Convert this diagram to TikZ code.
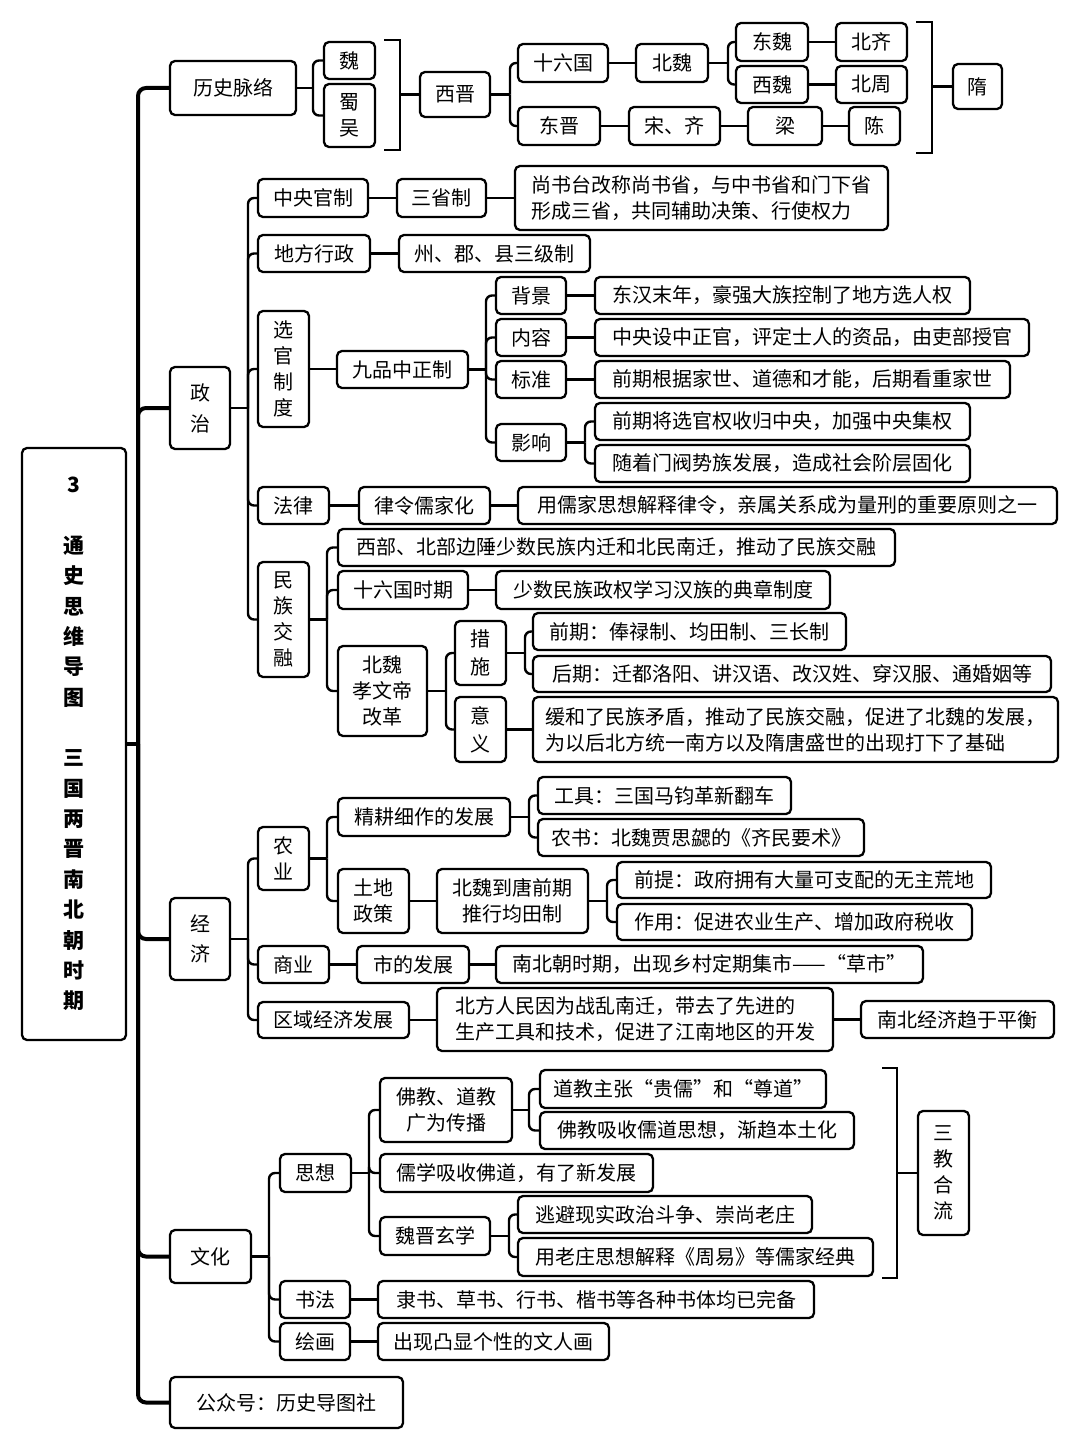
\documentclass[tikz,border=0pt]{standalone}
\usepackage{fontspec}
\setmainfont{Noto Sans CJK SC}
\begin{document}
\begin{tikzpicture}[x=1pt,y=-1pt,
  box/.style={draw,line width=2.3pt,rounded corners=5pt,fill=white,inner sep=0pt,align=center,font=\fontsize{20}{26}\selectfont},
  conn/.style={line width=2.4pt},
  trunk/.style={line width=4pt},
  lft/.style={align=left}]
\fill[white] (0,0) rectangle (1080,1450);
\useasboundingbox (0,0) rectangle (1080,1450);
\newcommand\bx[7][]{%
 \pgfmathsetmacro\bxw{#5-#3}\pgfmathsetmacro\bxh{#6-#4}%
 \pgfmathsetmacro\bxcx{(#3+#5)/2}\pgfmathsetmacro\bxcy{(#4+#6)/2}%
 \node[box,minimum width=\bxw pt,minimum height=\bxh pt,#1] (#2) at (\bxcx,\bxcy) {#7};}
\newcommand\fork[3]{%
 \coordinate (#1-f) at (#1.east -| #2,0);
 \draw[conn] (#1.east) -- (#1-f);
 \foreach \c in {#3} {\draw[conn,rounded corners=6pt] (#1-f) |- (\c.west);}}
\newcommand\lnk[2]{\draw[conn] (#1.east) -- (#1.east -| #2.west);}

% title
\bx[font=\fontsize{21}{30.35}\selectfont\bfseries]{title}{22}{448}{126}{1040}{3\\[30.35pt]通\\史\\思\\维\\导\\图\\[30.35pt]三\\国\\两\\晋\\南\\北\\朝\\时\\期}

% level 1
\bx{lishi}{170}{61}{296}{115}{历史脉络}
\bx[font=\fontsize{20}{31}\selectfont]{zhengzhi}{170}{367}{230}{449}{政\\治}
\bx[font=\fontsize{20}{30}\selectfont]{jingji}{170}{898}{230}{980}{经\\济}
\bx{wenhua}{170}{1230}{251}{1283}{文化}
\bx{gzh}{170}{1377}{403}{1428}{公众号：历史导图社}

\coordinate (tr) at (138,744);
\draw[trunk] (title.east) -- (tr);
\foreach \b in {lishi,zhengzhi,jingji,wenhua,gzh} {\draw[trunk,rounded corners=8pt] (tr) |- (\b.west);}

% history line
\bx{wei}{324}{42}{375}{79}{魏}
\bx{shuwu}{324}{84}{375}{147}{蜀\\吴}
\bx{xijin}{420}{72}{490}{117}{西晋}
\bx{sl}{518}{44}{608}{82}{十六国}
\bx{bw}{636}{44}{708}{82}{北魏}
\bx{dw}{736}{23}{808}{61}{东魏}
\bx{xw}{736}{66}{808}{103}{西魏}
\bx{bq}{836}{23}{907}{61}{北齐}
\bx{bz}{836}{66}{907}{103}{北周}
\bx{dj}{518}{107}{600}{145}{东晋}
\bx{sq}{629}{107}{720}{145}{宋、齐}
\bx{liang}{748}{107}{822}{145}{梁}
\bx{chen}{849}{107}{900}{145}{陈}
\bx{sui}{953}{64}{1002}{109}{隋}

\fork{lishi}{313}{wei,shuwu}
\draw[conn] (384,40) -- (400,40) -- (400,150) -- (384,150);
\draw[conn] (xijin.west -| 400,0) -- (xijin.west);
\fork{xijin}{510}{sl,dj}
\lnk{sl}{bw}
\fork{bw}{728}{dw,xw}
\lnk{dw}{bq}
\lnk{xw}{bz}
\lnk{dj}{sq}
\lnk{sq}{liang}
\lnk{liang}{chen}
\draw[conn] (916,22) -- (932,22) -- (932,153) -- (916,153);
\draw[conn] (sui.west -| 932,0) -- (sui.west);

% politics
\bx{zy}{258}{179}{368}{217}{中央官制}
\bx{ssz}{397}{179}{486}{217}{三省制}
\bx[lft]{ssz-t}{515}{166}{888}{230}{尚书台改称尚书省，与中书省和门下省\\形成三省，共同辅助决策、行使权力}
\bx{df}{258}{235}{370}{272}{地方行政}
\bx{zj}{399}{235}{590}{272}{州、郡、县三级制}
\bx{xg}{258}{311}{309}{427}{选\\官\\制\\度}
\bx{jp}{337}{351}{468}{388}{九品中正制}
\bx{bj}{496}{277}{566}{314}{背景}
\bx{nr}{496}{319}{566}{356}{内容}
\bx{bzh}{496}{361}{566}{398}{标准}
\bx{yx}{496}{424}{566}{461}{影响}
\bx{bj-t}{595}{277}{970}{314}{东汉末年，豪强大族控制了地方选人权}
\bx{nr-t}{595}{319}{1029}{356}{中央设中正官，评定士人的资品，由吏部授官}
\bx{bzh-t}{595}{361}{1010}{398}{前期根据家世、道德和才能，后期看重家世}
\bx{yx-a}{595}{403}{970}{440}{前期将选官权收归中央，加强中央集权}
\bx{yx-b}{595}{445}{970}{482}{随着门阀势族发展，造成社会阶层固化}
\bx{fl}{258}{487}{329}{524}{法律}
\bx{ll}{359}{487}{490}{524}{律令儒家化}
\bx{ll-t}{518}{487}{1057}{524}{用儒家思想解释律令，亲属关系成为量刑的重要原则之一}
\bx{mz}{258}{562}{309}{677}{民\\族\\交\\融}
\bx{mz-a}{338}{529}{895}{566}{西部、北部边陲少数民族内迁和北民南迁，推动了民族交融}
\bx{slq}{338}{571}{468}{609}{十六国时期}
\bx{slq-t}{496}{571}{830}{609}{少数民族政权学习汉族的典章制度}
\bx{xwr}{338}{646}{427}{736}{北魏\\孝文帝\\改革}
\bx[font=\fontsize{20}{28}\selectfont]{cs}{455}{621}{506}{685}{措\\施}
\bx[font=\fontsize{20}{28}\selectfont]{yy}{455}{697}{506}{762}{意\\义}
\bx{cs-a}{533}{613}{846}{650}{前期：俸禄制、均田制、三长制}
\bx{cs-b}{533}{656}{1051}{692}{后期：迁都洛阳、讲汉语、改汉姓、穿汉服、通婚姻等}
\bx[lft]{yy-t}{533}{697}{1058}{762}{缓和了民族矛盾，推动了民族交融，促进了北魏的发展，\\为以后北方统一南方以及隋唐盛世的出现打下了基础}

\fork{zhengzhi}{248}{zy,df,xg,fl,mz}
\lnk{zy}{ssz}
\lnk{ssz}{ssz-t}
\lnk{df}{zj}
\lnk{xg}{jp}
\fork{jp}{486}{bj,nr,bzh,yx}
\lnk{bj}{bj-t}
\lnk{nr}{nr-t}
\lnk{bzh}{bzh-t}
\fork{yx}{585}{yx-a,yx-b}
\lnk{fl}{ll}
\lnk{ll}{ll-t}
\fork{mz}{327}{mz-a,slq,xwr}
\lnk{slq}{slq-t}
\fork{xwr}{446}{cs,yy}
\fork{cs}{525}{cs-a,cs-b}
\lnk{yy}{yy-t}

% economy
\bx{ny}{258}{827}{309}{890}{农\\业}
\bx{jg}{338}{798}{510}{836}{精耕细作的发展}
\bx{gj}{538}{777}{791}{814}{工具：三国马钧革新翻车}
\bx{ns}{538}{819}{864}{856}{农书：北魏贾思勰的《齐民要术》}
\bx{td}{338}{869}{409}{933}{土地\\政策}
\bx{jt}{437}{869}{588}{933}{北魏到唐前期\\推行均田制}
\bx{qt}{617}{862}{991}{898}{前提：政府拥有大量可支配的无主荒地}
\bx{zyo}{617}{904}{972}{940}{作用：促进农业生产、增加政府税收}
\bx{sy}{258}{946}{329}{983}{商业}
\bx{sf}{357}{946}{469}{983}{市的发展}
\bx{sf-t}{496}{946}{923}{983}{南北朝时期，出现乡村定期集市——“草市”}
\bx{qy}{258}{1002}{409}{1038}{区域经济发展}
\bx[lft]{qy-t}{437}{988}{833}{1051}{北方人民因为战乱南迁，带去了先进的\\生产工具和技术，促进了江南地区的开发}
\bx{qy-r}{861}{1001}{1054}{1038}{南北经济趋于平衡}

\fork{jingji}{248}{ny,sy,qy}
\fork{ny}{327}{jg,td}
\fork{jg}{529}{gj,ns}
\lnk{td}{jt}
\fork{jt}{607}{qt,zyo}
\lnk{sy}{sf}
\lnk{sf}{sf-t}
\lnk{qy}{qy-t}
\lnk{qy-t}{qy-r}

% culture
\bx{sx}{280}{1154}{351}{1192}{思想}
\bx{fj}{380}{1078}{512}{1142}{佛教、道教\\广为传播}
\bx{fj-a}{540}{1070}{826}{1108}{道教主张“贵儒”和“尊道”}
\bx{fj-b}{540}{1112}{854}{1149}{佛教吸收儒道思想，渐趋本土化}
\bx{rx}{380}{1154}{653}{1192}{儒学吸收佛道，有了新发展}
\bx{xx}{380}{1217}{490}{1255}{魏晋玄学}
\bx{xx-a}{518}{1196}{812}{1233}{逃避现实政治斗争、崇尚老庄}
\bx{xx-b}{518}{1238}{873}{1276}{用老庄思想解释《周易》等儒家经典}
\bx{sjhl}{918}{1111}{969}{1235}{三\\教\\合\\流}
\bx{shf}{280}{1281}{350}{1318}{书法}
\bx{shf-t}{378}{1281}{814}{1318}{隶书、草书、行书、楷书等各种书体均已完备}
\bx{hh}{280}{1323}{350}{1360}{绘画}
\bx{hh-t}{378}{1323}{609}{1360}{出现凸显个性的文人画}

\fork{wenhua}{269}{sx,shf,hh}
\fork{sx}{369}{fj,rx,xx}
\fork{fj}{529}{fj-a,fj-b}
\fork{xx}{509}{xx-a,xx-b}
\draw[conn] (882,1068) -- (897,1068) -- (897,1278) -- (882,1278);
\draw[conn] (sjhl.west -| 897,0) -- (sjhl.west);
\lnk{shf}{shf-t}
\lnk{hh}{hh-t}
\end{tikzpicture}
\end{document}
